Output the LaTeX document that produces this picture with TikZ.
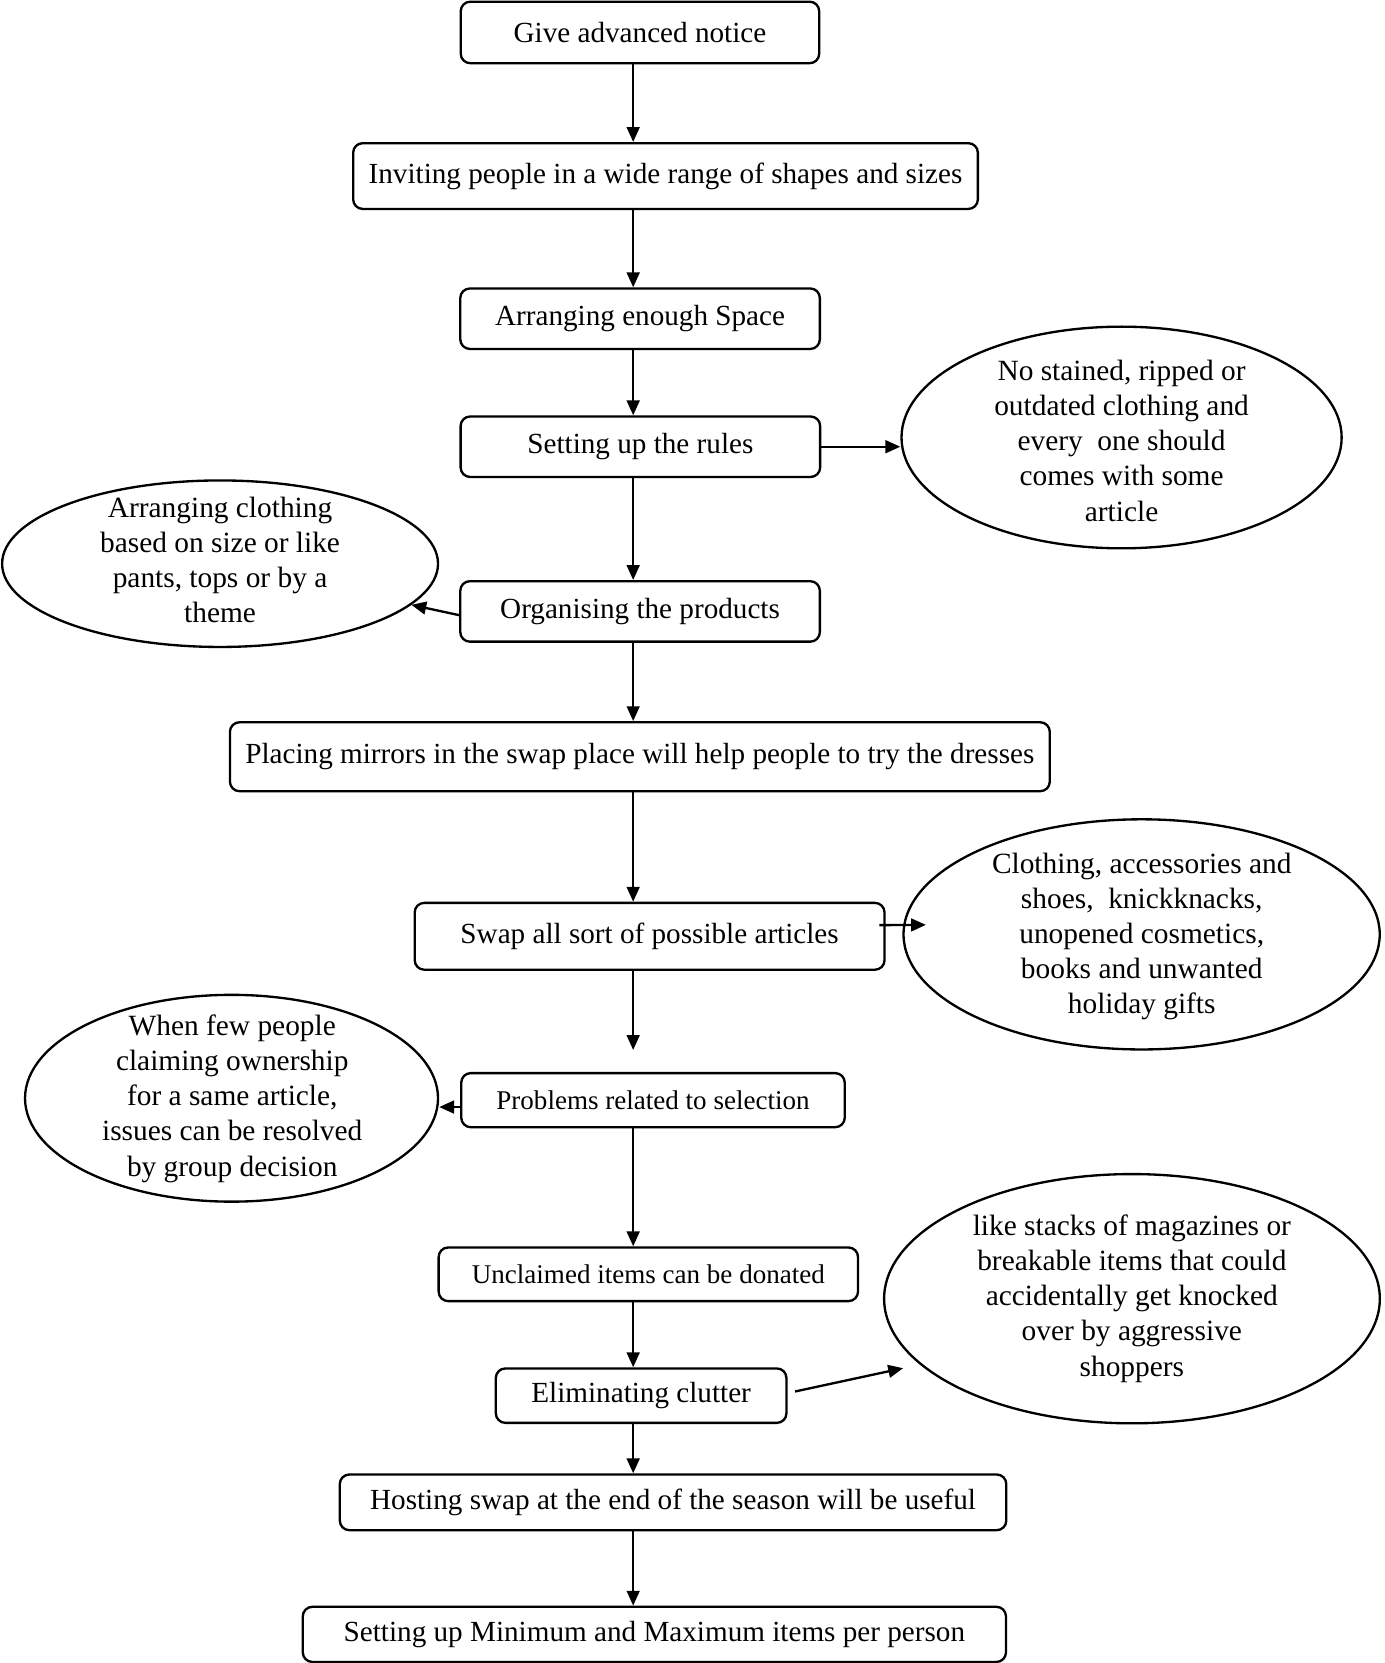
\documentclass[tikz,border=0pt]{standalone}
\usepackage{fontspec}
\setmainfont{Liberation Serif}
\usetikzlibrary{arrows.meta,shapes.geometric}
\begin{document}
\begin{tikzpicture}[x=1pt,y=-1pt,
  box/.style={draw, line width=2.2pt, rounded corners=9pt, inner sep=0pt, font=\fontsize{27.5}{33.5}\selectfont},
  sbox/.style={box, font=\fontsize{25.5}{31}\selectfont},
  ell/.style={draw, ellipse, line width=2.2pt, inner sep=0pt},
  etext/.style={align=center, inner sep=0pt, font=\fontsize{27.7}{33.2}\selectfont},
  arr/.style={line width=2.2pt, -{Triangle[length=14pt,width=12pt]}},
]
\useasboundingbox (0,0) rectangle (1305,1568);

% main boxes
\node[box, minimum width=338pt, minimum height=58pt] (b1) at (603.4,30.6) {Give advanced notice};
\node[box, minimum width=589pt, minimum height=62pt] (b2) at (627.5,166) {Inviting people in a wide range of shapes and sizes};
\node[box, minimum width=339pt, minimum height=57pt] (b3) at (603.5,300.5) {Arranging enough Space};
\node[box, minimum width=339pt, minimum height=57pt] (b4) at (603.8,421.2) {Setting up the rules};
\node[box, minimum width=339pt, minimum height=57pt] (b5) at (603.5,576.5) {Organising the products};
\node[box, minimum width=773pt, minimum height=65pt] (b6) at (603.3,713.5) {Placing mirrors in the swap place will help people to try the dresses};
\node[box, minimum width=443pt, minimum height=63pt] (b7) at (612.5,882.8) {Swap all sort of possible articles};
\node[sbox, minimum width=361.6pt, minimum height=51pt] (b8) at (615.7,1037.3) {Problems related to selection};
\node[sbox, minimum width=395.4pt, minimum height=50.6pt] (b9) at (611.3,1201.5) {Unclaimed items can be donated};
\node[box, minimum width=274pt, minimum height=51.3pt] (b10) at (604.5,1315.9) {Eliminating clutter};
\node[box, minimum width=628.4pt, minimum height=52.5pt] (b11) at (634.6,1416.5) {Hosting swap at the end of the season will be useful};
\node[box, minimum width=663pt, minimum height=52pt] (b12) at (617,1541) {Setting up Minimum and Maximum items per person};

% ellipses
\node[ell, minimum width=415pt, minimum height=209pt] (E1) at (1057.5,412.5) {};
\node[etext] (E1t) at (1057.5,415.4) {No stained, ripped or\\outdated clothing and\\every \ one should\\comes with some\\article};
\node[ell, minimum width=411pt, minimum height=157pt] (E2) at (207.5,531.5) {};
\node[etext] (E2t) at (207.5,528) {Arranging clothing\\based on size or like\\pants, tops or by a\\theme};
\node[ell, minimum width=449pt, minimum height=217pt] (E3) at (1076.4,881) {};
\node[etext] (E3t) at (1076.5,883) {Clothing, accessories and\\shoes, \ knickknacks,\\unopened cosmetics,\\books and unwanted\\holiday gifts};
\node[ell, minimum width=389.4pt, minimum height=195pt] (E4) at (218.3,1035.5) {};
\node[etext] (E4t) at (219,1035.8) {When few people\\claiming ownership\\for a same article,\\issues can be resolved\\by group decision};
\node[ell, minimum width=467.4pt, minimum height=235pt] (E5) at (1067.3,1224.5) {};
\node[etext] (E5t) at (1067.2,1224.2) {like stacks of magazines or\\breakable items that could\\accidentally get knocked\\over by aggressive\\shoppers};

% main flow
\coordinate (ax) at (597,0);
\coordinate (a7end) at (597,990);
\draw[arr] (b1.south -| ax) -- (b2.north -| ax);
\draw[arr] (b2.south -| ax) -- (b3.north -| ax);
\draw[arr] (b3.south -| ax) -- (b4.north -| ax);
\draw[arr] (b4.south -| ax) -- (b5.north -| ax);
\draw[arr] (b5.south -| ax) -- (b6.north -| ax);
\draw[arr] (b6.south -| ax) -- (b7.north -| ax);
\draw[arr] (b7.south -| ax) -- (a7end);
\draw[arr] (b8.south -| ax) -- (b9.north -| ax);
\draw[arr] (b9.south -| ax) -- (b10.north -| ax);
\draw[arr] (b10.south -| ax) -- (b11.north -| ax);
\draw[arr] (b11.south -| ax) -- (b12.north -| ax);

% side arrows
\coordinate (e3in) at (873,872);
\coordinate (e5tip) at (851.5,1290);
\draw[arr] (b4.east) -- (b4.east -| E1.west);
\draw[arr] ([yshift=-3.5pt]b5.west) -- (E2);
\draw[arr] ([xshift=-6pt,yshift=10.5pt]b7.east) -- (e3in);
\draw[arr] ([yshift=-6.5pt]b8.west) -- ([yshift=-6.5pt]b8.west -| E4.east);
\draw[arr] ([xshift=7pt,yshift=3.9pt]b10.east) -- (e5tip);
\end{tikzpicture}
\end{document}
